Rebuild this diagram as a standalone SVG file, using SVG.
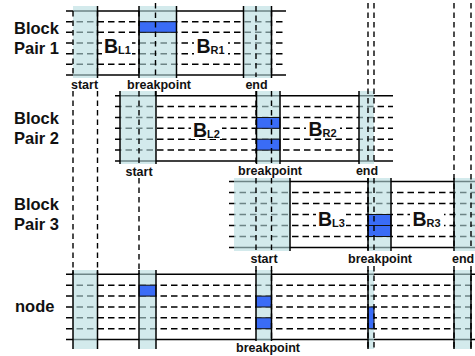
<svg xmlns="http://www.w3.org/2000/svg" width="475" height="356" viewBox="0 0 475 356">
<style>
.sol{stroke:#000;stroke-width:1.5;fill:none}
.dsh{stroke:#000;stroke-width:1.5;fill:none;stroke-dasharray:6.5 4}
.vd{stroke:#000;stroke-width:1.4;fill:none;stroke-dasharray:5.5 4}
.col{fill:#b6dcdf;fill-opacity:0.6}
.edge{stroke:#000;stroke-width:1.5}
.blue{fill:#3a6cf6;stroke:#111;stroke-width:1}
.lbl{font-family:"Liberation Sans",Arial,sans-serif;font-weight:bold;font-size:12.5px;fill:#111;text-anchor:middle}
.bp{font-family:"Liberation Sans",Arial,sans-serif;font-weight:bold;font-size:16.5px;fill:#111}
.bl{font-family:"Liberation Sans",Arial,sans-serif;font-weight:bold;font-size:19.5px;fill:#111}
.sub{font-size:11px}
.wb{fill:#fff}
</style>
<rect width="475" height="356" fill="#fff"/>

<!-- Block Pair 1 -->
<g id="block1">
  <line class="sol" x1="66" y1="11" x2="286" y2="11"/>
  <line class="dsh" x1="66" y1="21.7" x2="286" y2="21.7"/>
  <line class="dsh" x1="66" y1="32.3" x2="286" y2="32.3"/>
  <line class="dsh" x1="66" y1="43" x2="286" y2="43"/>
  <line class="dsh" x1="66" y1="53.7" x2="286" y2="53.7"/>
  <line class="dsh" x1="66" y1="64.3" x2="286" y2="64.3"/>
  <line class="sol" x1="66" y1="75" x2="286" y2="75"/>
  <rect class="col" x="73" y="6" width="24.5" height="72"/>
  <rect class="col" x="139" y="6" width="37.5" height="72"/>
  <rect class="col" x="243.5" y="6" width="28" height="72"/>
  <rect class="blue" x="139" y="21.7" width="37.5" height="10.6"/>
  <line class="edge" x1="97.5" y1="6" x2="97.5" y2="78"/>
  <line class="edge" x1="139" y1="6" x2="139" y2="78"/>
  <line class="edge" x1="176.5" y1="6" x2="176.5" y2="78"/>
  <line class="edge" x1="243.5" y1="6" x2="243.5" y2="78"/>
  <line class="edge" x1="271.5" y1="6" x2="271.5" y2="78"/>
  <rect class="wb" x="102" y="36" width="30" height="19"/>
  <rect class="wb" x="194" y="36" width="34" height="19"/>
  <text class="bl" x="104" y="53">B<tspan class="sub" dy="1">L1</tspan></text>
  <text class="bl" x="196.5" y="53">B<tspan class="sub" dy="1">R1</tspan></text>
  <text class="bp" x="14" y="34">Block</text>
  <text class="bp" x="14" y="54">Pair 1</text>
</g>

<!-- Block Pair 2 -->
<g id="block2">
  <line class="sol" x1="115" y1="95.7" x2="393" y2="95.7"/>
  <line class="dsh" x1="115" y1="106.6" x2="393" y2="106.6"/>
  <line class="dsh" x1="115" y1="117.5" x2="393" y2="117.5"/>
  <line class="dsh" x1="115" y1="128.3" x2="393" y2="128.3"/>
  <line class="dsh" x1="115" y1="139.2" x2="393" y2="139.2"/>
  <line class="dsh" x1="115" y1="150.1" x2="393" y2="150.1"/>
  <line class="sol" x1="115" y1="161" x2="393" y2="161"/>
  <rect class="col" x="120" y="91" width="36" height="73"/>
  <rect class="col" x="256.5" y="91" width="23.5" height="73"/>
  <rect class="col" x="359" y="91" width="15" height="73"/>
  <rect class="blue" x="256.5" y="117.5" width="23.5" height="10.8"/>
  <rect class="blue" x="256.5" y="139.2" width="23.5" height="10.9"/>
  <line class="edge" x1="120" y1="91" x2="120" y2="164"/>
  <line class="edge" x1="156" y1="91" x2="156" y2="164"/>
  <line class="edge" x1="256.5" y1="91" x2="256.5" y2="164"/>
  <line class="edge" x1="280" y1="91" x2="280" y2="164"/>
  <line class="edge" x1="359" y1="91" x2="359" y2="164"/>
  <rect class="wb" x="191" y="120" width="31" height="19"/>
  <rect class="wb" x="306" y="119" width="34" height="19"/>
  <text class="bl" x="193" y="136.5">B<tspan class="sub" dy="1">L2</tspan></text>
  <text class="bl" x="308.5" y="136">B<tspan class="sub" dy="1">R2</tspan></text>
  <text class="bp" x="14" y="123.5">Block</text>
  <text class="bp" x="14" y="143.5">Pair 2</text>
</g>

<!-- Block Pair 3 -->
<g id="block3">
  <line class="sol" x1="229" y1="181.5" x2="475" y2="181.5"/>
  <line class="dsh" x1="229" y1="192.5" x2="475" y2="192.5"/>
  <line class="dsh" x1="229" y1="203.5" x2="475" y2="203.5"/>
  <line class="dsh" x1="229" y1="214.5" x2="475" y2="214.5"/>
  <line class="dsh" x1="229" y1="225.5" x2="475" y2="225.5"/>
  <line class="dsh" x1="229" y1="236.5" x2="475" y2="236.5"/>
  <line class="sol" x1="229" y1="247.5" x2="475" y2="247.5"/>
  <rect class="col" x="234" y="178" width="56" height="73"/>
  <rect class="col" x="368" y="178" width="23" height="73"/>
  <rect class="col" x="454" y="178" width="21" height="73"/>
  <rect class="blue" x="368" y="214.5" width="23" height="11"/>
  <rect class="blue" x="368" y="225.5" width="23" height="11"/>
  <line class="edge" x1="290" y1="178" x2="290" y2="251"/>
  <line class="edge" x1="368" y1="178" x2="368" y2="251"/>
  <line class="edge" x1="391" y1="178" x2="391" y2="251"/>
  <line class="edge" x1="454" y1="178" x2="454" y2="251"/>
  <rect class="wb" x="316" y="208" width="30" height="20"/>
  <rect class="wb" x="410" y="208" width="34" height="20"/>
  <text class="bl" x="318" y="225.5">B<tspan class="sub" dy="1">L3</tspan></text>
  <text class="bl" x="412.5" y="225.5">B<tspan class="sub" dy="1">R3</tspan></text>
  <text class="bp" x="14" y="209.5">Block</text>
  <text class="bp" x="14" y="230">Pair 3</text>
</g>

<!-- node -->
<g id="node">
  <line class="sol" x1="66" y1="274.3" x2="475" y2="274.3"/>
  <line class="dsh" x1="66" y1="285.2" x2="475" y2="285.2"/>
  <line class="dsh" x1="66" y1="296.1" x2="475" y2="296.1"/>
  <line class="dsh" x1="66" y1="307" x2="475" y2="307"/>
  <line class="dsh" x1="66" y1="317.8" x2="475" y2="317.8"/>
  <line class="dsh" x1="66" y1="328.7" x2="475" y2="328.7"/>
  <line class="sol" x1="66" y1="339.6" x2="475" y2="339.6"/>
  <rect class="col" x="73" y="270" width="24.5" height="79"/>
  <rect class="col" x="139" y="270" width="17" height="79"/>
  <rect class="col" x="256" y="270" width="15.5" height="71"/>
  <rect class="col" x="368" y="270" width="6" height="79"/>
  <rect class="col" x="454" y="270" width="17" height="79"/>
  <rect class="blue" x="139" y="285.2" width="17" height="10.9"/>
  <rect class="blue" x="256" y="296.1" width="15.5" height="10.9"/>
  <rect class="blue" x="256" y="317.8" width="15.5" height="10.9"/>
  <rect class="blue" x="368" y="307" width="6" height="21.7"/>
  <line class="edge" x1="73" y1="270" x2="73" y2="349"/>
  <line class="edge" x1="97.5" y1="270" x2="97.5" y2="349"/>
  <line class="edge" x1="139" y1="270" x2="139" y2="349"/>
  <line class="edge" x1="156" y1="270" x2="156" y2="349"/>
  <line class="edge" x1="256" y1="270" x2="256" y2="341"/>
  <line class="edge" x1="271.5" y1="270" x2="271.5" y2="341"/>
  <line class="edge" x1="368" y1="270" x2="368" y2="349"/>
  <line class="edge" x1="454" y1="270" x2="454" y2="349"/>
  <line class="edge" x1="471" y1="270" x2="471" y2="349"/>
  <text class="bp" x="15" y="311.5">node</text>
</g>

<!-- connectors: vertical dashed guide lines -->
<g id="connectors">
  <path class="vd" d="M73 11V77M73 91V274"/>
  <path class="vd" d="M97.5 11V77M97.5 91V274"/>
  <path class="vd" d="M139 11V77M139 91V164M139 178V274"/>
  <path class="vd" d="M155.5 3V77M155.5 91V96"/>
  <path class="vd" d="M256 6V77M256 91V163M256 178V250M256 266V274"/>
  <path class="vd" d="M271.5 11V77M271.5 91V163M271.5 178V250M271.5 266V341"/>
  <path class="vd" d="M368 3V163M368 178V250M368 266V349"/>
  <path class="vd" d="M374 3V163M374 178V250M374 266V349"/>
  <path class="vd" d="M454 3V250M454 266V349"/>
  <path class="vd" d="M471 3V250M471 266V349"/>
</g>

<!-- column labels -->
<g id="labels">
  <text class="lbl" x="84.5" y="89">start</text>
  <text class="lbl" x="159" y="89">breakpoint</text>
  <text class="lbl" x="256.5" y="89">end</text>
  <text class="lbl" x="139" y="175.5">start</text>
  <text class="lbl" x="270" y="175">breakpoint</text>
  <text class="lbl" x="367" y="175">end</text>
  <text class="lbl" x="264" y="263">start</text>
  <text class="lbl" x="380" y="263">breakpoint</text>
  <text class="lbl" x="452" y="263" style="text-anchor:start">end</text>
  <text class="lbl" x="268" y="352">breakpoint</text>
</g>
</svg>
